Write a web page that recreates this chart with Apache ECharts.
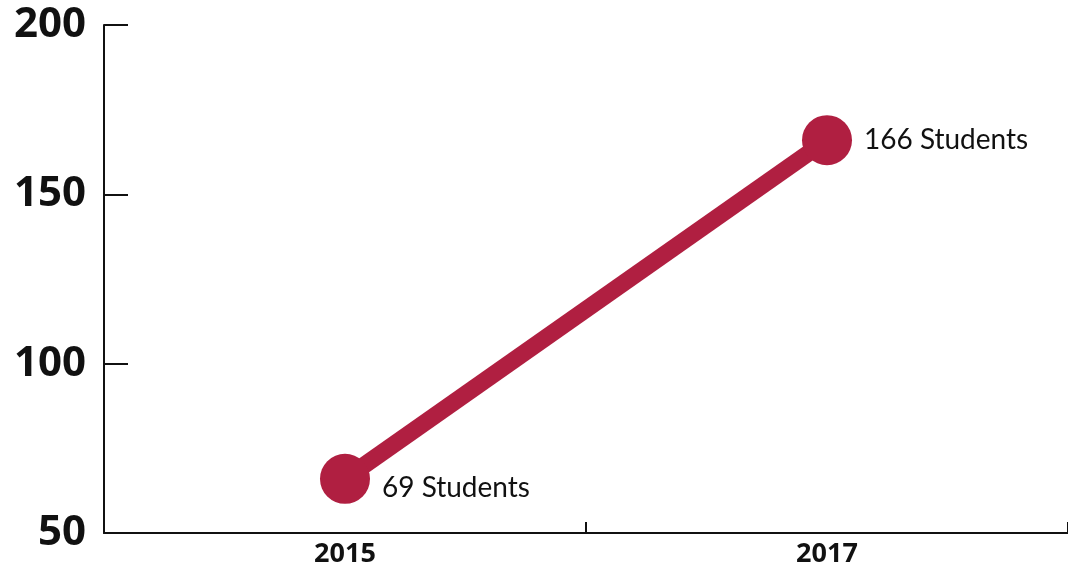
<!DOCTYPE html>
<html>
<head>
<meta charset="utf-8">
<script src="https://cdn.jsdelivr.net/npm/echarts@6/dist/echarts.min.js"></script>
<style>
  html, body { margin: 0; padding: 0; background: #fff; }
  #chart { width: 1068px; height: 568px; }
</style>
</head>
<body>
<div id="chart"></div>
<script>
const years = ['2015', '2017']
const students = [66, 166]
const pointLabels = ['69 Students', '166 Students']

const chart = echarts.init(document.getElementById('chart'), null, { renderer: 'canvas' })

const option = {
  animation: false,
  grid: { left: 104, right: -6, top: 25, bottom: 35 },
  xAxis: {
    type: 'category',
    data: years,
    axisLine: { lineStyle: { color: '#111', width: 2 } },
    axisTick: { show: true, inside: true, length: 11, lineStyle: { color: '#111', width: 2 } },
    axisLabel: {
      color: '#111', fontSize: 27, fontWeight: 'bold', fontFamily: 'Open Sans', margin: 8
    },
  },
  yAxis: {
    type: 'value',
    min: 50,
    max: 200,
    interval: 50,
    axisLine: { show: true, lineStyle: { color: '#111', width: 2 } },
    axisTick: { show: true, inside: true, length: 24, lineStyle: { color: '#111', width: 2 } },
    splitLine: { show: false },
    axisLabel: {
      color: '#111', fontSize: 42, fontWeight: 'bold', fontFamily: 'Open Sans', margin: 18
    },
  },
  series: [{
    type: 'line',
    data: students.map((v, i) => ({
      value: v,
      label: i === 0 ? { offset: [0, 9] } : {}
    })),
    symbol: 'circle',
    symbolSize: 50,
    lineStyle: { color: '#b01f41', width: 17 },
    itemStyle: { color: '#b01f41' },
    label: {
      show: true,
      position: 'right',
      distance: 12,
      color: '#111',
      fontSize: 28,
      fontFamily: 'Lato',
      formatter: (p) => pointLabels[p.dataIndex],
    },
  }],
}

chart.setOption(option)
</script>
</body>
</html>
